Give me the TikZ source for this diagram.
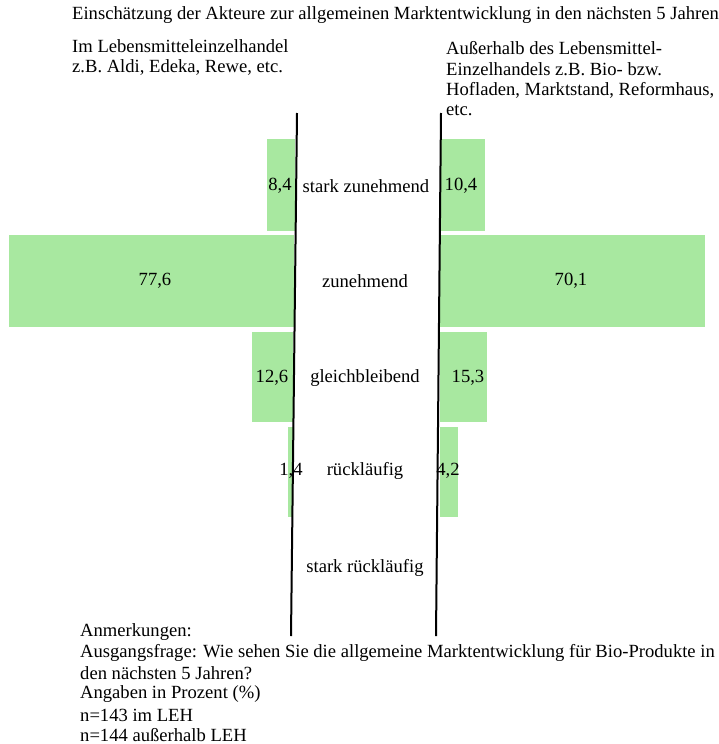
\documentclass[tikz,border=0pt]{standalone}
\usepackage{fontspec}
\setmainfont{Liberation Serif}
\definecolor{balken}{RGB}{168,232,160}
\tikzset{
  balk/.style={fill=balken, draw=none},
  txt/.style={font=\fontsize{18.6}{21}\selectfont, inner sep=0pt},
  ltxt/.style={txt, anchor=west},
  achse/.style={line width=2pt, black}
}

\begin{document}
\begin{tikzpicture}[x=1pt,y=-1pt]
\useasboundingbox (0,0) rectangle (718,744);
%%%%% BALKEN %%%%%
\fill[balk] (267,139) rectangle (295,231);
\fill[balk] (440,139) rectangle (485,231);

\fill[balk] (9,235) rectangle (294,327);
\fill[balk] (440,235) rectangle (705,327);

\fill[balk] (252,332) rectangle (293,422);
\fill[balk] (440,332) rectangle (487,422);

\fill[balk] (288,427) rectangle (293,517);
\fill[balk] (440,427) rectangle (458,517);

%%%%% ACHSEN %%%%%
\draw[achse] (297,113) -- (291,636);
\draw[achse] (441,113) -- (436,636);

%%%%% TEXTE %%%%%
\node[ltxt] (titel) at (72,15) {Einschätzung der Akteure zur allgemeinen Marktentwicklung in den nächsten 5 Jahren};
\node[ltxt] (leh1) at (72,46) {Im Lebensmitteleinzelhandel};
\node[ltxt] (leh2) at (72,67) {z.B. Aldi, Edeka, Rewe, etc.};
\node[ltxt] (aus1) at (446,48) {Außerhalb des Lebensmittel-};
\node[ltxt] (aus2) at (446,69) {Einzelhandels z.B. Bio- bzw.};
\node[ltxt] (aus3) at (446,90) {Hofladen, Marktstand, Reformhaus,};
\node[ltxt] (aus4) at (446,110) {etc.};

\node[txt] (kat1) at (366,186) {stark zunehmend};
\node[txt] (kat2) at (365,281) {zunehmend};
\node[txt] (kat3) at (365,378) {gleichbleibend};
\node[txt] (kat4) at (365,471) {rückläufig};
\node[txt] (kat5) at (365,568) {stark rückläufig};

\node[txt] (l1) at (280,186) {8,4};
\node[txt] (r1) at (461,186) {10,4};
\node[txt] (l2) at (155,281) {77,6};
\node[txt] (r2) at (571,281) {70,1};
\node[txt] (l3) at (272,378) {12,6};
\node[txt] (r3) at (468,378) {15,3};
\node[txt] (l4) at (291,471) {1,4};
\node[txt] (r4) at (448,471) {4,2};

\node[ltxt] (anm1) at (80,632) {Anmerkungen:};
\node[ltxt] (anm2) at (80,653) {Ausgangsfrage: Wie sehen Sie die allgemeine Marktentwicklung für Bio-Produkte in};
\node[ltxt] (anm3) at (80,673) {den nächsten 5 Jahren?};
\node[ltxt] (anm4) at (80,694) {Angaben in Prozent (\%)};
\node[ltxt] (anm5) at (80,715) {n=143 im LEH};
\node[ltxt] (anm6) at (80,735) {n=144 außerhalb LEH};
\end{tikzpicture}
\end{document}
